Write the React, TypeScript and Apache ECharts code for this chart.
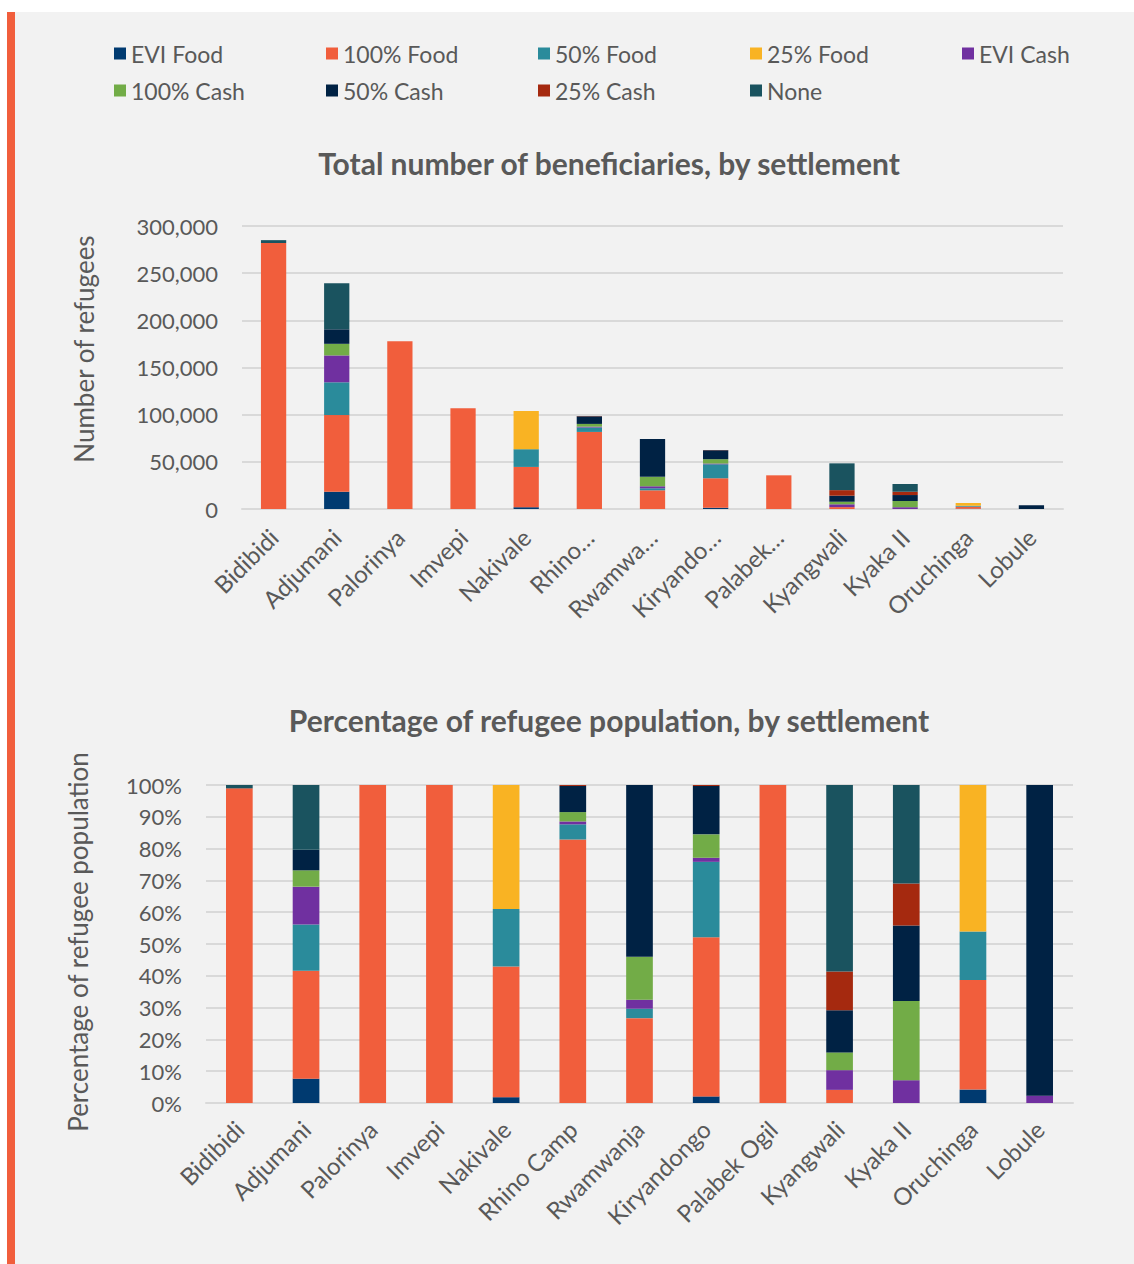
import React, { useEffect, useRef } from "react";
import * as echarts from "echarts";

const categories = ["Bidibidi", "Adjumani", "Palorinya", "Imvepi", "Nakivale", "Rhino Camp", "Rwamwanja", "Kiryandongo", "Palabek Ogil", "Kyangwali", "Kyaka II", "Oruchinga", "Lobule"];
const topLabels = ["Bidibidi", "Adjumani", "Palorinya", "Imvepi", "Nakivale", "Rhino…", "Rwamwa…", "Kiryando…", "Palabek…", "Kyangwali", "Kyaka II", "Oruchinga", "Lobule"];

const eviFood = [0, 18300, 0, 0, 1900, 0, 0, 1300, 0, 0, 0, 270, 0];
const food100 = [282000, 81300, 177800, 106700, 42700, 81700, 19800, 31300, 35700, 2000, 0, 2200, 0];
const food50 = [0, 34700, 0, 0, 18800, 4700, 2200, 14800, 0, 0, 0, 970, 0];
const food25 = [0, 0, 0, 0, 40500, 0, 0, 0, 0, 0, 0, 2940, 0];
const eviCash = [0, 28500, 0, 0, 0, 900, 2100, 800, 0, 3000, 1900, 0, 90];
const cash100 = [0, 12300, 0, 0, 0, 2900, 10000, 4600, 0, 2700, 6600, 0, 0];
const cash50 = [0, 15400, 0, 0, 0, 8100, 40100, 9500, 0, 6400, 6300, 0, 3800];
const cash25 = [0, 0, 0, 0, 0, 300, 0, 200, 0, 5900, 3500, 0, 0];
const none = [3000, 48800, 0, 0, 0, 0, 0, 0, 0, 28400, 8200, 0, 0];

const yTicksTop = [0, 50000, 100000, 150000, 200000, 250000, 300000];

const seriesDefs = [
  { name: "EVI Food", data: eviFood, color: "#003a70" },
  { name: "100% Food", data: food100, color: "#f15e3c" },
  { name: "50% Food", data: food50, color: "#2a8b9b" },
  { name: "25% Food", data: food25, color: "#f9b323" },
  { name: "EVI Cash", data: eviCash, color: "#7030a0" },
  { name: "100% Cash", data: cash100, color: "#72ac47" },
  { name: "50% Cash", data: cash50, color: "#002244" },
  { name: "25% Cash", data: cash25, color: "#a5290f" },
  { name: "None", data: none, color: "#1a535f" },
];

const FONT = "Lato, 'Noto Sans', sans-serif";
const TXT = "#595959";

export default function App() {
  const ref = useRef<HTMLDivElement>(null);
  useEffect(() => {
    if (!ref.current) return;
    const chart = echarts.init(ref.current, undefined, { renderer: "svg" });
    const totals = categories.map((_, i) => seriesDefs.reduce((s, d) => s + d.data[i], 0));
    const series: any[] = [];
    seriesDefs.forEach((d) => {
      series.push({
        name: d.name,
        type: "bar",
        stack: "top",
        xAxisIndex: 0,
        yAxisIndex: 0,
        barWidth: "40%",
        itemStyle: { color: d.color },
        data: d.data.map((v) => (v === 0 ? null : v)),
      });
    });
    seriesDefs.forEach((d) => {
      series.push({
        name: d.name,
        type: "bar",
        stack: "pct",
        xAxisIndex: 1,
        yAxisIndex: 1,
        barWidth: "40%",
        itemStyle: { color: d.color },
        data: d.data.map((v, i) => (v === 0 ? null : (v / totals[i]) * 100)),
      });
    });
    const axisLabelStyle = { fontFamily: FONT, fontSize: 22, color: TXT };
    const catLabelStyle = { fontFamily: FONT, fontSize: 24, color: TXT };
    chart.setOption({
      animation: false,
      backgroundColor: "transparent",
      textStyle: { fontFamily: FONT },
      title: [
        {
          text: "Total number of beneficiaries, by settlement",
          left: 604,
          top: 143,
          textAlign: "center",
          textStyle: { fontFamily: FONT, fontSize: 30, fontWeight: "bold", color: TXT },
        },
        {
          text: "Percentage of refugee population, by settlement",
          left: 604,
          top: 700,
          textAlign: "center",
          textStyle: { fontFamily: FONT, fontSize: 30, fontWeight: "bold", color: TXT },
        },
      ],
      legend: {
        left: 109,
        top: 36,
        width: 1070,
        itemWidth: 12,
        itemHeight: 12,
        icon: "rect",
        itemGap: 12,
        textStyle: { fontFamily: FONT, fontSize: 23, color: TXT, width: 183, lineHeight: 25 },
        data: seriesDefs.map((d) => d.name),
      },
      graphic: [
        {
          type: "text",
          x: 84,
          y: 349,
          rotation: Math.PI / 2,
          style: { text: "Number of refugees", fontFamily: FONT, fontSize: 26, fill: TXT, align: "center", verticalAlign: "middle" },
        },
        {
          type: "text",
          x: 78,
          y: 942,
          rotation: Math.PI / 2,
          style: { text: "Percentage of refugee population", fontFamily: FONT, fontSize: 26, fill: TXT, align: "center", verticalAlign: "middle" },
        },
      ],
      grid: [
        { left: 242, width: 821, top: 226, height: 283 },
        { left: 206, width: 867, top: 785, height: 318 },
      ],
      xAxis: [
        {
          type: "category",
          gridIndex: 0,
          data: categories,
          axisTick: { show: false },
          axisLine: { lineStyle: { color: "#d9d9d9", width: 2 } },
          axisLabel: {
            ...catLabelStyle,
            rotate: 45,
            margin: 24,
            interval: 0,
            formatter: (_v: string, i: number) => topLabels[i],
          },
        },
        {
          type: "category",
          gridIndex: 1,
          data: categories,
          axisTick: { show: false },
          axisLine: { lineStyle: { color: "#d9d9d9", width: 2 } },
          axisLabel: { ...catLabelStyle, rotate: 45, margin: 22, interval: 0 },
        },
      ],
      yAxis: [
        {
          type: "value",
          gridIndex: 0,
          min: yTicksTop[0],
          max: yTicksTop[yTicksTop.length - 1],
          interval: 50000,
          axisLine: { show: false },
          axisTick: { show: false },
          splitLine: { lineStyle: { color: "#d9d9d9", width: 2 } },
          axisLabel: {
            ...axisLabelStyle,
            margin: 24,
            formatter: (v: number) => v.toLocaleString("en-US"),
          },
        },
        {
          type: "value",
          gridIndex: 1,
          min: 0,
          max: 100,
          interval: 10,
          axisLine: { show: false },
          axisTick: { show: false },
          splitLine: { lineStyle: { color: "#d9d9d9", width: 2 } },
          axisLabel: { ...axisLabelStyle, margin: 24, formatter: (v: number) => v + "%" },
        },
      ],
      series,
    });
    return () => chart.dispose();
  }, []);

  return (
    <div style={{ position: "absolute", left: 0, top: 0, width: 1134, height: 1264, background: "#ffffff", overflow: "hidden" }}>
      <div style={{ position: "absolute", left: 7, top: 12, width: 8, height: 1252, background: "#f15e3c" }} />
      <div style={{ position: "absolute", left: 15, top: 12, width: 1119, height: 1252, background: "#f2f2f2" }} />
      <div ref={ref} style={{ position: "absolute", left: 0, top: 0, width: 1134, height: 1264 }} />
    </div>
  );
}
